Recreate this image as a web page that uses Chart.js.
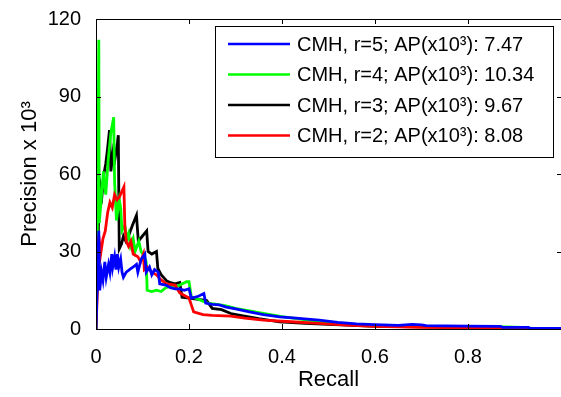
<!DOCTYPE html>
<html>
<head>
<meta charset="utf-8">
<script src="https://cdn.jsdelivr.net/npm/chart.js@4.4.1/dist/chart.umd.min.js"></script>
<style>
  body { margin: 0; background: #fff; }
  #wrap { width: 561px; height: 397px; }
</style>
</head>
<body>
<div id="wrap"><canvas id="chart1" width="561" height="397"></canvas></div>
<script>
// precision is in units of 10^-3
var seriesLabels = [
  "CMH, r=5; AP(x10\u00B3): 7.47",
  "CMH, r=4; AP(x10\u00B3): 10.34",
  "CMH, r=3; AP(x10\u00B3): 9.67",
  "CMH, r=2; AP(x10\u00B3): 8.08"
];
var seriesColors = ["#0000ff", "#00ff00", "#000000", "#ff0000"];

var recallR5 = [0, 0.006, 0.008, 0.012, 0.015, 0.019, 0.022, 0.027, 0.03, 0.034, 0.036, 0.04, 0.043, 0.046, 0.049, 0.053, 0.056, 0.059, 0.065, 0.072, 0.08, 0.087, 0.09, 0.097, 0.105, 0.108, 0.115, 0.12, 0.126, 0.134, 0.137, 0.15, 0.16, 0.17, 0.18, 0.19, 0.2, 0.205, 0.218, 0.232, 0.236, 0.25, 0.265, 0.28, 0.3, 0.33, 0.36, 0.395, 0.43, 0.48, 0.52, 0.56, 0.6, 0.65, 0.68, 0.7, 0.71, 0.75, 0.8, 0.87, 0.875, 0.93, 0.935, 1.0];
var precR5 = [0, 38, 15, 22, 19, 26, 20, 25, 22, 29, 24, 28, 23, 29, 24, 27, 22, 20, 22, 23, 24, 25, 22, 27, 29, 22, 24, 21, 23, 22, 17.5, 17, 16, 15.5, 15.5, 15, 15.6, 12, 12.5, 13.7, 10, 9.5, 9.3, 8.5, 7.8, 6.6, 5.6, 4.7, 4.2, 3.4, 2.6, 2, 1.7, 1.4, 1.8, 1.6, 1.3, 1.2, 1.1, 1.0, 0.6, 0.6, 0.2, 0.2];

var recallR4 = [0, 0.003, 0.006, 0.007, 0.012, 0.016, 0.019, 0.021, 0.026, 0.032, 0.038, 0.04, 0.044, 0.05, 0.053, 0.056, 0.062, 0.066, 0.07, 0.074, 0.08, 0.084, 0.092, 0.097, 0.104, 0.108, 0.11, 0.12, 0.13, 0.14, 0.15, 0.16, 0.17, 0.18, 0.195, 0.2, 0.205, 0.22, 0.24, 0.26, 0.28, 0.3, 0.33, 0.36, 0.4, 0.44, 0.48, 0.52, 0.58, 0.62, 0.66, 0.7, 0.76, 0.8, 0.86, 0.9, 0.93];
var precR4 = [0, 40, 112, 41, 52, 61, 55, 52, 65, 76, 82, 57, 42, 50, 47, 38, 40, 35, 37, 32, 35, 30, 34, 30, 28, 26, 15, 14.5, 15, 14.5, 16, 16.5, 16, 17, 18.3, 18.3, 12.5, 11.5, 10, 9.5, 9, 8, 7, 6, 4.8, 3.8, 2.8, 2.2, 1.5, 1.2, 1.3, 1.0, 1.0, 0.9, 0.9, 0.7, 0.5];

var recallR3 = [0, 0.003, 0.006, 0.01, 0.013, 0.017, 0.021, 0.025, 0.029, 0.032, 0.037, 0.041, 0.046, 0.048, 0.05, 0.055, 0.059, 0.064, 0.07, 0.078, 0.087, 0.091, 0.1, 0.109, 0.112, 0.12, 0.13, 0.133, 0.14, 0.152, 0.16, 0.17, 0.18, 0.185, 0.2, 0.22, 0.238, 0.25, 0.27, 0.29, 0.31, 0.35, 0.395, 0.45, 0.5, 0.54, 0.6, 0.7, 0.8, 0.86, 0.93];
var precR3 = [0, 25, 45, 55, 52, 60, 64, 70, 77, 61, 69, 66, 72, 75, 31, 33, 36, 34, 36, 40, 44, 34, 36, 38, 30, 29, 30, 23.5, 21, 18.6, 18, 17.5, 18, 12.3, 12, 11.5, 11, 8, 7.5, 6, 5.3, 4, 2.8, 2.2, 1.8, 1.5, 1.0, 0.8, 0.6, 0.5, 0.3];

var recallR2 = [0, 0.004, 0.006, 0.01, 0.015, 0.02, 0.025, 0.03, 0.035, 0.04, 0.045, 0.05, 0.055, 0.06, 0.062, 0.065, 0.07, 0.075, 0.08, 0.09, 0.096, 0.102, 0.104, 0.11, 0.12, 0.13, 0.14, 0.152, 0.17, 0.18, 0.19, 0.2, 0.21, 0.23, 0.25, 0.29, 0.32, 0.36, 0.42, 0.47, 0.54, 0.6, 0.7, 0.8, 0.84, 0.88, 0.93];
var precR2 = [0, 20, 36, 29, 35, 38, 45, 49, 47, 52, 50, 51, 53, 55, 40, 34, 32, 34, 29, 28, 26, 29, 23, 24, 22, 21, 19, 17.5, 17, 14, 13, 12, 6.6, 5.6, 5.3, 5, 4.2, 3.4, 2.8, 2.3, 1.5, 1.0, 0.6, 0.5, 0.6, 0.5, 0.2];

var yTicks = [0, 30, 60, 90, 120];
var xTicks = [0, 0.2, 0.4, 0.6, 0.8];

function toPoints(xs, ys) {
  return xs.map(function (x, i) {
    return { x: x, y: ys[i] };
  });
}

var allRecall = [recallR5, recallR4, recallR3, recallR2];
var allPrec = [precR5, precR4, precR3, precR2];
// blue ends up on top, black at the bottom
var drawOrder = [1, 3, 4, 2];

var datasets = seriesLabels.map(function (lab, i) {
  return {
    label: lab,
    data: toPoints(allRecall[i], allPrec[i]),
    borderColor: seriesColors[i],
    backgroundColor: seriesColors[i],
    borderWidth: 2.8,
    pointRadius: 0,
    showLine: true,
    tension: 0,
    order: drawOrder[i]
  };
});

var fontFam = "'Liberation Sans', Arial, Helvetica, sans-serif";

// box round the axes with inward ticks, matlab style
// (the right edge of the box falls just outside the picture)
var framePlugin = {
  id: "frame",
  afterDraw: function (chart) {
    var ctx = chart.ctx;
    var a = chart.chartArea;
    var xs = chart.scales.x, ys = chart.scales.y;
    var len = 5;
    ctx.save();
    ctx.strokeStyle = "#000";
    ctx.lineWidth = 1;
    ctx.strokeRect(a.left + 0.5, a.top + 0.5, a.right - a.left + 1, a.bottom - a.top);
    ctx.beginPath();
    xTicks.forEach(function (v) {
      var px = Math.round(xs.getPixelForValue(v)) + 0.5;
      ctx.moveTo(px, a.bottom);
      ctx.lineTo(px, a.bottom - len);
      ctx.moveTo(px, a.top);
      ctx.lineTo(px, a.top + len);
    });
    yTicks.forEach(function (v) {
      var py = Math.round(ys.getPixelForValue(v)) + 0.5;
      ctx.moveTo(a.left, py);
      ctx.lineTo(a.left + len, py);
      ctx.moveTo(a.right + 1, py);
      ctx.lineTo(a.right + 1 - len, py);
    });
    ctx.stroke();
    ctx.restore();
  }
};

// legend box inside the plot, top right
var legendPlugin = {
  id: "boxLegend",
  afterDraw: function (chart) {
    var ctx = chart.ctx;
    var bx = 215, by = 26, bw = 338, bh = 131;
    ctx.save();
    ctx.fillStyle = "#fff";
    ctx.fillRect(bx, by, bw, bh);
    ctx.strokeStyle = "#000";
    ctx.lineWidth = 1;
    ctx.strokeRect(bx + 0.5, by + 0.5, bw, bh);
    ctx.font = "20px " + fontFam;
    ctx.textBaseline = "middle";
    ctx.fillStyle = "#000";
    chart.data.datasets.forEach(function (ds, i) {
      var y = 44 + i * 30.5;
      ctx.strokeStyle = ds.borderColor;
      ctx.lineWidth = 2.5;
      ctx.beginPath();
      ctx.moveTo(228, y);
      ctx.lineTo(290, y);
      ctx.stroke();
      ctx.fillText(ds.label, 297, y + 1);
    });
    ctx.restore();
  }
};

var ctx = document.getElementById("chart1");
var myChart = new Chart(ctx, {
  type: "scatter",
  data: { datasets: datasets },
  options: {
    responsive: false,
    animation: false,
    layout: { padding: { top: 13, right: 0, bottom: 0, left: 0 } },
    plugins: {
      legend: { display: false },
      tooltip: { enabled: false }
    },
    scales: {
      x: {
        type: "linear",
        min: 0,
        max: 1,
        afterFit: function (scale) {
          scale.height = 68;
          scale.paddingRight = 0;
          scale.paddingLeft = 0;
        },
        grid: { display: false },
        border: { display: false },
        ticks: {
          stepSize: 0.2,
          padding: 8,
          color: "#000",
          font: { family: fontFam, size: 20 },
          maxRotation: 0,
          callback: function (v) { return v >= 1 ? "" : String(Math.round(v * 10) / 10); }
        },
        title: {
          display: true,
          text: "Recall",
          color: "#000",
          font: { family: fontFam, size: 22 },
          padding: { top: 0, bottom: 4 }
        }
      },
      y: {
        type: "linear",
        min: 0,
        max: 120,
        afterFit: function (scale) { scale.width = 96; },
        grid: { display: false },
        border: { display: false },
        ticks: {
          stepSize: 30,
          padding: 7,
          color: "#000",
          font: { family: fontFam, size: 20 }
        },
        title: {
          display: true,
          text: "Precision x 10\u00B3",
          color: "#000",
          font: { family: fontFam, size: 22 },
          padding: { top: 17, bottom: 0 }
        }
      }
    }
  },
  plugins: [framePlugin, legendPlugin]
});
</script>
</body>
</html>
